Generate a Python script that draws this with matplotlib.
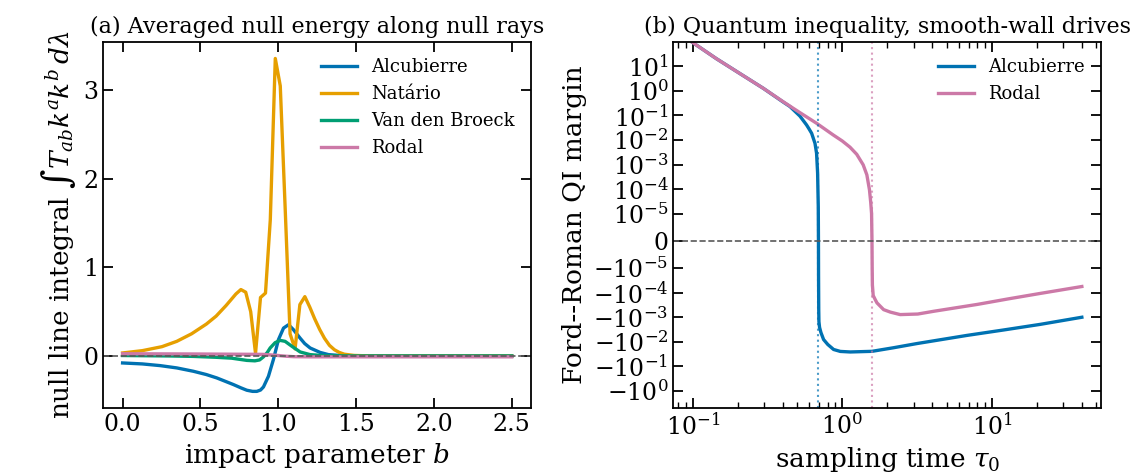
import matplotlib
matplotlib.use("Agg")
import matplotlib.pyplot as plt

plt.rcParams["font.family"] = "DejaVu Serif"
plt.rcParams["mathtext.fontset"] = "dejavuserif"

# colours (Okabe-Ito)
C_ALC = "#0072B2"
C_NAT = "#E69F00"
C_VDB = "#009E73"
C_ROD = "#CC79A7"

# ---- panel (a): null line integral vs impact parameter b ----
b_alc = [0.0, 0.127, 0.241, 0.348, 0.455, 0.538, 0.605, 0.665, 0.712, 0.760, 0.798,
         0.835, 0.862, 0.886, 0.905, 0.937, 0.969, 1.001, 1.034, 1.066, 1.098, 1.141,
         1.170, 1.205, 1.269, 1.323, 1.400, 1.500, 1.700, 2.000, 2.500]
v_alc = [-0.079, -0.090, -0.109, -0.135, -0.173, -0.210, -0.248, -0.290, -0.323, -0.360, -0.387,
         -0.400, -0.400, -0.385, -0.350, -0.230, -0.040, 0.183, 0.315, 0.353, 0.296, 0.200,
         0.140, 0.090, 0.040, 0.015, 0.005, 0.001, 0.0, 0.0, 0.0]

b_nat = [0.0, 0.127, 0.253, 0.348, 0.443, 0.538, 0.601, 0.665, 0.728, 0.760, 0.791,
         0.823, 0.854, 0.886, 0.918, 0.949, 0.981, 1.013, 1.044, 1.076, 1.108, 1.139,
         1.171, 1.203, 1.234, 1.266, 1.297, 1.329, 1.361, 1.392, 1.424, 1.487, 1.600, 2.500]
v_nat = [0.034, 0.060, 0.105, 0.165, 0.250, 0.360, 0.450, 0.570, 0.700, 0.750, 0.720,
         0.500, 0.030, 0.660, 0.710, 1.540, 3.360, 3.050, 1.690, 0.250, 0.080, 0.580,
         0.670, 0.550, 0.420, 0.300, 0.200, 0.120, 0.070, 0.040, 0.020, 0.006, 0.0, 0.0]

b_vdb = [0.0, 0.300, 0.455, 0.600, 0.700, 0.798, 0.850, 0.880, 0.905, 0.930, 0.948,
         0.980, 1.012, 1.044, 1.087, 1.141, 1.205, 1.300, 1.500, 2.500]
v_vdb = [0.005, 0.0, -0.005, -0.015, -0.025, -0.050, -0.055, -0.045, -0.010, 0.040, 0.090,
         0.150, 0.176, 0.165, 0.110, 0.045, 0.015, 0.003, 0.0, 0.0]

b_rod = [0.0, 0.5, 0.9, 0.95, 1.0, 1.05, 1.1, 1.2, 2.5]
v_rod = [0.025, 0.022, 0.018, 0.012, 0.005, -0.003, -0.008, -0.010, -0.010]

# ---- panel (b): Ford-Roman QI margin vs sampling time tau0 ----
tau_alc = [0.1, 0.144, 0.207, 0.296, 0.403, 0.447, 0.521, 0.577, 0.60, 0.624, 0.657,
           0.673, 0.684, 0.691, 0.693, 0.694, 0.696, 0.698, 0.705, 0.72, 0.75, 0.80,
           0.875, 0.97, 1.13, 1.58, 2.2, 3.16, 6.82, 12.0, 21.1, 40.0]
m_alc = [93.0, 20.5, 5.06, 1.28, 0.35, 0.23, 0.094, 0.041, 0.028, 0.0187, 0.0073,
         0.0029, 4.5e-4, 1.9e-5, 0.0, -2e-5, -5e-4, -1.5e-3, -2.6e-3, -4.2e-3, -8.1e-3, -0.0129,
         -0.0206, -0.0247, -0.026, -0.0245, -0.0175, -0.0118, -5.5e-3, -3.3e-3, -1.95e-3, -1.0e-3]

tau_rod = [0.1, 0.144, 0.207, 0.296, 0.403, 0.521, 0.673, 0.87, 1.0, 1.126, 1.25,
           1.38, 1.46, 1.52, 1.55, 1.57, 1.58, 1.585, 1.59, 1.61, 1.66, 1.706,
           1.89, 2.1, 2.44, 3.2, 4.1, 8.0, 13.0, 21.1, 40.0]
m_rod = [93.0, 20.5, 5.06, 1.28, 0.36, 0.13, 0.048, 0.016, 0.0091, 0.0051, 0.0026,
         9.7e-4, 3.8e-4, 9.3e-5, 2.8e-5, 1e-5, 0.0, -1e-5, -4.8e-5, -1.3e-4, -1.9e-4, -2.6e-4,
         -4.9e-4, -6.2e-4, -7.8e-4, -7.4e-4, -5.7e-4, -3.0e-4, -1.77e-4, -1.07e-4, -5.6e-5]

tau_star_alc = 0.693
tau_star_rod = 1.58

qi_ticks = [-1.0, -0.1, -1e-2, -1e-3, -1e-4, -1e-5, 0.0, 1e-5, 1e-4, 1e-3, 1e-2, 0.1, 1.0, 10.0]

fig, (ax1, ax2) = plt.subplots(1, 2, figsize=(11.46, 4.75), dpi=100)
fig.subplots_adjust(left=0.090, right=0.961, bottom=0.141, top=0.912, wspace=0.332)

lw = 2.4

# panel (a)
ax1.plot(b_alc, v_alc, color=C_ALC, lw=lw, label="Alcubierre")
ax1.plot(b_nat, v_nat, color=C_NAT, lw=lw, label="Natário")
ax1.plot(b_vdb, v_vdb, color=C_VDB, lw=lw, label="Van den Broeck")
ax1.plot(b_rod, v_rod, color=C_ROD, lw=lw, label="Rodal")
ax1.axhline(0, color="0.35", ls="--", lw=1.2)
ax1.set_xlabel(r"impact parameter $b$", fontsize=19)
ax1.set_ylabel(r"null line integral $\int T_{ab}k^a k^b\, d\lambda$", fontsize=19)
ax1.set_title("(a) Averaged null energy along null rays", fontsize=16)
ax1.set_yticks([0, 1, 2, 3])
ax1.legend(loc="upper right", frameon=False, fontsize=13)

# panel (b)
ax2.plot(tau_alc, m_alc, color=C_ALC, lw=lw, label="Alcubierre")
ax2.plot(tau_rod, m_rod, color=C_ROD, lw=lw, label="Rodal")
ax2.axvline(tau_star_alc, color=C_ALC, ls=":", lw=1.5, alpha=0.7)
ax2.axvline(tau_star_rod, color=C_ROD, ls=":", lw=1.5, alpha=0.7)
ax2.axhline(0, color="0.35", ls="--", lw=1.2)
ax2.set_xscale("log")
ax2.set_yscale("symlog", linthresh=1e-5, linscale=1)
ax2.set_yticks(qi_ticks)
ax2.set_ylim(-5, 100)
ax2.set_xlabel(r"sampling time $\tau_0$", fontsize=19)
ax2.set_ylabel("Ford--Roman QI margin", fontsize=19)
ax2.set_title("(b) Quantum inequality, smooth-wall drives", fontsize=16)
ax2.legend(loc="upper right", frameon=False, fontsize=13)
ax2.yaxis.set_minor_locator(matplotlib.ticker.NullLocator())

for ax in (ax1, ax2):
    ax.tick_params(which="both", direction="in", top=True, right=True, labelsize=17)
    ax.tick_params(which="major", length=7, width=1.3)
    ax.tick_params(which="minor", length=4, width=1.0)
    for s in ax.spines.values():
        s.set_linewidth(1.3)

fig.savefig("out.png", dpi=100)
